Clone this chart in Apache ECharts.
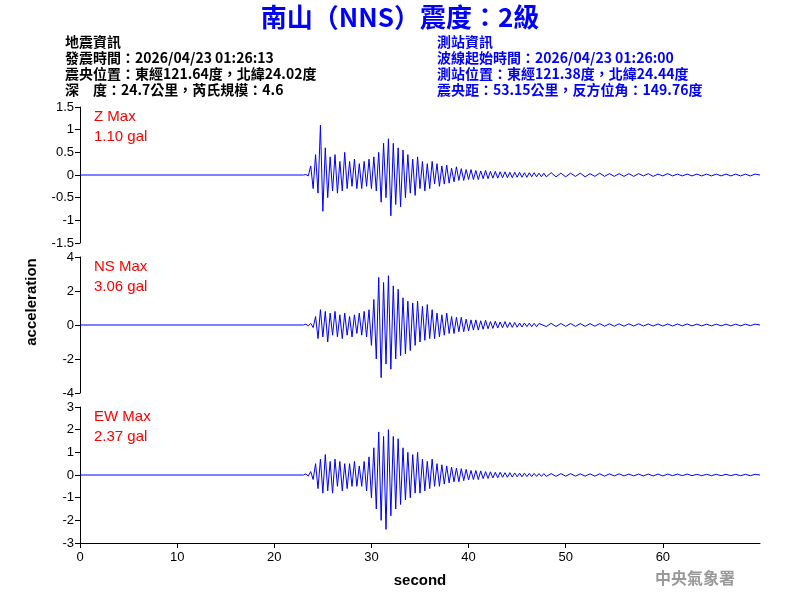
<!DOCTYPE html><html><head><meta charset="utf-8"><script src="https://cdn.jsdelivr.net/npm/echarts@6/dist/echarts.min.js"></script></head><body style="margin:0"><div id="c" style="width:800px;height:600px"></div><script>
const zMain=[0,0.01,-0.02,0.2,-0.3,0.45,-0.4,1.1,-0.8,0.6,-0.5,0.4,-0.35,0.45,-0.4,0.3,-0.35,0.5,-0.3,0.3,-0.25,0.35,-0.3,0.25,
-0.3,0.3,-0.25,0.35,-0.3,0.4,-0.35,0.5,-0.6,0.7,-0.5,0.8,-0.9,0.7,-0.65,0.6,-0.7,0.55,-0.5,0.45,-0.4,0.35,-0.45,0.4,
-0.3,0.3,-0.35,0.25,-0.3,0.3,-0.2,0.25,-0.25,0.2,-0.2,0.22,-0.18,0.15,-0.15,0.18,-0.12,0.14,-0.12,0.12,-0.1,0.12,-0.1,0.1,
-0.1,0.09,-0.08,0.1,-0.08,0.08,-0.07,0.08,-0.07,0.07,-0.06,0.07,-0.06,0.06,-0.06,0.06,-0.05,0.06,-0.05,0.05,-0.05,0.05,-0.04,0.05,-0.04,0.04,-0.04,0.04];
const zTail=[-0.04,0.05,-0.04,0.04,-0.04,0.04,-0.03,0.04,-0.04,0.03,-0.03,0.04,-0.03,0.03,-0.03,0.03,-0.03,0.03,-0.03,0.03,-0.02,0.03,-0.03,0.02,-0.02,0.03,-0.02,0.02,-0.02,0.02,-0.02,0.02,-0.02,0.02,-0.02,0.02,-0.02,0.02,-0.02,0.02,-0.02,0.02,-0.02,0.02,0];
const nsMain=[0,0.05,-0.05,0.1,-0.15,0.5,-0.8,0.9,-0.7,0.8,-1.0,0.7,-0.6,0.8,-0.7,0.6,-0.8,0.7,-0.6,0.5,-0.7,0.6,-0.5,0.7,
-0.6,0.8,-0.7,0.9,-1.2,1.5,-2.0,2.8,-3.1,2.5,-2.3,2.9,-2.6,2.3,-2.0,2.1,-1.8,1.6,-1.7,1.4,-1.5,1.3,-1.2,1.4,
-1.0,1.1,-0.9,1.2,-0.8,0.9,-0.8,0.7,-0.7,0.6,-0.6,0.7,-0.5,0.5,-0.5,0.45,-0.4,0.45,-0.4,0.35,-0.35,0.3,-0.3,0.3,
-0.3,0.25,-0.25,0.28,-0.22,0.2,-0.2,0.22,-0.18,0.18,-0.16,0.2,-0.15,0.15,-0.14,0.15,-0.13,0.12,-0.12,0.12,-0.1,0.11,-0.1,0.1,-0.1,0.09];
const nsTail=[-0.09,0.1,-0.09,0.09,-0.08,0.09,-0.08,0.08,-0.08,0.08,-0.07,0.08,-0.07,0.07,-0.07,0.07,-0.07,0.07,-0.06,0.07,-0.06,0.06,-0.06,0.06,-0.06,0.06,-0.06,0.06,-0.05,0.06,-0.05,0.05,-0.05,0.05,-0.05,0.05,-0.05,0.05,-0.05,0.05,-0.05,0.05,-0.04,0.05,0];
const ewMain=[0,0.05,-0.05,0.15,-0.2,0.5,-0.6,0.7,-0.8,0.9,-0.7,0.6,-0.8,0.7,-0.5,0.6,-0.7,0.5,-0.6,0.5,-0.5,0.6,-0.5,0.4,
-0.5,0.6,-0.7,0.8,-1.0,1.2,-1.5,1.9,-2.0,1.7,-2.4,2.0,-1.8,1.7,-1.5,1.6,-1.3,1.2,-1.1,1.0,-1.0,0.9,-0.8,1.0,
-0.8,0.7,-0.7,0.6,-0.6,0.7,-0.5,0.5,-0.5,0.45,-0.4,0.4,-0.35,0.35,-0.3,0.3,-0.3,0.28,-0.25,0.25,-0.22,0.2,-0.2,0.2,
-0.2,0.18,-0.16,0.15,-0.15,0.14,-0.13,0.12,-0.12,0.12,-0.1,0.1,-0.1,0.1,-0.09,0.09,-0.08,0.08,-0.08,0.08,-0.07,0.07,-0.07,0.07,-0.06,0.06,-0.06,0.06];
const ewTail=[-0.06,0.06,-0.06,0.06,-0.05,0.06,-0.05,0.05,-0.05,0.05,-0.05,0.05,-0.05,0.05,-0.04,0.05,-0.04,0.04,-0.04,0.04,-0.04,0.04,-0.04,0.04,-0.04,0.04,-0.03,0.04,-0.03,0.04,-0.03,0.03,-0.03,0.03,-0.03,0.03,-0.03,0.03,-0.03,0.03,-0.03,0.03,-0.03,0.03,0];
function build(main,tail){const d=[[0,0]];main.forEach((v,i)=>d.push([23+i*0.25,v]));tail.forEach((v,i)=>d.push([48+i*0.5,v]));return d;}
const F='Liberation Sans, Arial, sans-serif';
const tops=[107,257,407], h=136;
const ranges=[[-1.5,1.5,0.5],[-4,4,2],[-3,3,1]];
const series=[build(zMain,zTail),build(nsMain,nsTail),build(ewMain,ewTail)];
const labels=[['Z Max','1.10 gal'],['NS Max','3.06 gal'],['EW Max','2.37 gal']];
const opt={animation:false,backgroundColor:'#fff',
grid:tops.map(t=>({left:80,width:680,top:t,height:h})),
xAxis:[0,1,2].map(i=>({gridIndex:i,type:'value',min:0,max:70,interval:10,show:i==2,axisLine:{show:true,onZero:false,lineStyle:{color:'#000'}},axisTick:{lineStyle:{color:'#000'},length:5},splitLine:{show:false},
axisLabel:{color:'#000',fontSize:13,fontFamily:F,showMaxLabel:false},name:'second',nameLocation:'middle',nameGap:30,nameTextStyle:{fontSize:15,fontWeight:'bold',color:'#000',fontFamily:F}})),
yAxis:[0,1,2].map(i=>({gridIndex:i,type:'value',min:ranges[i][0],max:ranges[i][1],interval:ranges[i][2],axisLine:{show:true,lineStyle:{color:'#000'}},axisTick:{show:true,lineStyle:{color:'#000'},length:5},splitLine:{show:false},axisLabel:{color:'#000',fontSize:13,fontFamily:F,margin:6}})),
series:series.map((d,i)=>({type:'line',xAxisIndex:i,yAxisIndex:i,data:d,showSymbol:false,lineStyle:{color:'#0000ff',width:1},z:2})),
graphic:[
{type:'text',left:'center',top:4,style:{text:'南山（NNS）震度：2級',fill:'#0000ff',font:'bold 26px "Noto Sans CJK TC", sans-serif'}},
{type:'text',left:65,top:34,style:{text:'地震資訊\n發震時間：2026/04/23 01:26:13\n震央位置：東經121.64度，北緯24.02度\n深　度：24.7公里，芮氏規模：4.6',fill:'#000',lineHeight:16,font:'bold 14px "Noto Sans CJK TC", sans-serif'}},
{type:'text',left:437,top:34,style:{text:'測站資訊\n波線起始時間：2026/04/23 01:26:00\n測站位置：東經121.38度，北緯24.44度\n震央距：53.15公里，反方位角：149.76度',fill:'#0000ff',lineHeight:16,font:'bold 14px "Noto Sans CJK TC", sans-serif'}},
{type:'text',x:32,y:302,rotation:Math.PI/2,style:{text:'acceleration',fill:'#000',font:'bold 15px '+F,align:'center',verticalAlign:'middle'}},
{type:'text',left:655,top:570,style:{text:'中央氣象署',fill:'#999',font:'bold 16px "Noto Sans CJK TC", serif'}},
...labels.flatMap((l,i)=>[{type:'text',left:94,top:tops[i]+2,style:{text:l[0],fill:'#ff0000',font:'15px '+F}},{type:'text',left:94,top:tops[i]+22,style:{text:l[1],fill:'#ff0000',font:'15px '+F}}])
]};
echarts.init(document.getElementById('c')).setOption(opt);
</script></body></html>
